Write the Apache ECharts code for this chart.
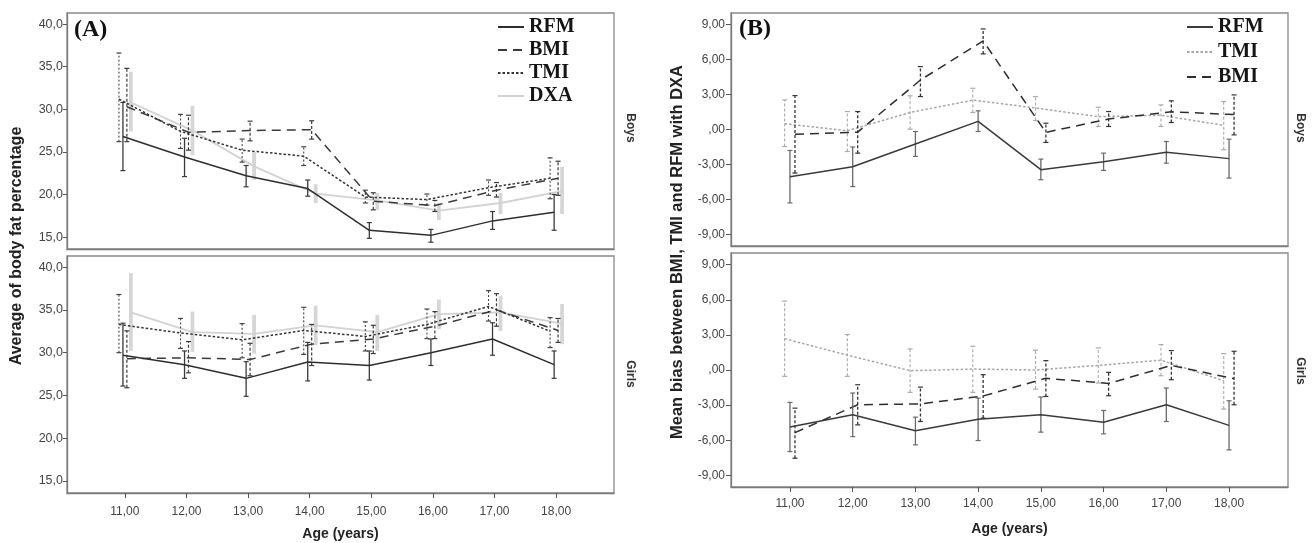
<!DOCTYPE html>
<html>
<head>
<meta charset="utf-8">
<script src="https://cdn.jsdelivr.net/npm/echarts@6/dist/echarts.min.js"></script>
<style>html,body{margin:0;padding:0;background:#fff}#c{width:1314px;height:543px}</style>
</head>
<body>
<div id="c"></div>
<script>
// ---------- DATA ----------
const ages = [11, 12, 13, 14, 15, 16, 17, 18];
const yTicksA = [15, 20, 25, 30, 35, 40];
const yTicksB = [-9, -6, -3, 0, 3, 6, 9];

// Panel A, Boys (body fat %)
const aBoysRFM   = [26.8, 24.4, 22.2, 20.7, 15.8, 15.2, 16.9, 17.9];
const aBoysRFMLo = [22.8, 22.1, 20.9, 19.8, 14.85, 14.4, 15.9, 15.8];
const aBoysRFMHi = [30.8, 26.6, 23.4, 21.7, 16.7, 15.9, 18.0, 20.0];
const aBoysBMI   = [30.3, 27.3, 27.5, 27.6, 19.2, 18.7, 20.5, 21.9];
const aBoysBMILo = [26.2, 25.2, 26.3, 26.5, 18.2, 18.0, 19.7, 19.9];
const aBoysBMIHi = [34.8, 29.3, 28.6, 28.65, 20.2, 19.3, 21.4, 23.9];
const aBoysTMI   = [31.2, 27.4, 25.2, 24.5, 19.7, 19.4, 20.8, 21.9];
const aBoysTMILo = [26.2, 25.4, 23.8, 23.4, 19.0, 18.75, 19.9, 19.5];
const aBoysTMIHi = [36.6, 29.4, 26.5, 25.6, 20.5, 20.05, 21.7, 24.3];
const aBoysDXA   = [30.8, 27.5, 23.3, 20.1, 19.3, 18.1, 19.0, 20.4];
const aBoysDXALo = [27.4, 24.6, 21.7, 19.0, 18.2, 17.0, 17.7, 17.7];
const aBoysDXAHi = [34.4, 30.4, 25.0, 21.2, 20.2, 19.0, 20.2, 23.25];

// Panel A, Girls
const aGirlsRFM   = [29.7, 28.6, 27.0, 28.9, 28.5, 30.0, 31.6, 28.6];
const aGirlsRFMLo = [26.1, 27.0, 24.9, 26.7, 26.8, 28.5, 29.7, 27.0];
const aGirlsRFMHi = [33.45, 30.2, 28.95, 31.2, 30.2, 31.6, 33.5, 30.2];
const aGirlsBMI   = [29.3, 29.4, 29.2, 31.0, 31.6, 33.1, 35.0, 32.6];
const aGirlsBMILo = [25.9, 27.65, 27.3, 28.5, 29.9, 31.65, 33.1, 31.2];
const aGirlsBMIHi = [32.55, 31.3, 31.1, 33.3, 33.2, 34.8, 36.9, 34.0];
const aGirlsTMI   = [33.3, 32.3, 31.5, 32.6, 31.9, 33.3, 35.4, 32.5];
const aGirlsTMILo = [30.0, 30.5, 29.4, 29.8, 30.2, 31.65, 33.7, 30.6];
const aGirlsTMIHi = [36.8, 34.0, 33.4, 35.3, 33.6, 35.1, 37.25, 34.1];
const aGirlsDXA   = [34.7, 32.4, 32.2, 33.2, 32.4, 34.5, 34.7, 33.4];
const aGirlsDXALo = [30.2, 30.1, 29.9, 30.9, 30.2, 32.75, 32.55, 31.0];
const aGirlsDXAHi = [39.3, 34.8, 34.4, 35.5, 34.4, 36.2, 36.6, 35.7];

// Panel B, Boys (mean bias vs DXA)
const bBoysRFM   = [-4.05, -3.2, -1.24, 0.7, -3.45, -2.77, -1.96, -2.5];
const bBoysRFMLo = [-6.3, -4.9, -2.31, -0.17, -4.31, -3.51, -2.89, -4.17];
const bBoysRFMHi = [-1.8, -1.5, -0.17, 1.6, -2.54, -2.03, -1.03, -0.83];
const bBoysTMI   = [0.5, -0.1, 1.46, 2.52, 1.85, 1.1, 1.22, 0.36];
const bBoysTMILo = [-1.46, -1.89, 0.03, 1.46, 0.77, 0.26, 0.26, -1.74];
const bBoysTMIHi = [2.54, 1.54, 2.89, 3.54, 2.83, 1.91, 2.11, 2.4];
const bBoysBMI   = [-0.4, -0.23, 4.25, 7.6, -0.25, 0.9, 1.52, 1.28];
const bBoysBMILo = [-3.74, -2.03, 2.83, 6.49, -1.11, 0.26, 0.6, -0.46];
const bBoysBMIHi = [2.91, 1.54, 5.4, 8.63, 0.54, 1.54, 2.46, 2.97];

// Panel B, Girls
const bGirlsRFM   = [-4.87, -3.83, -5.2, -4.2, -3.82, -4.46, -2.97, -4.73];
const bGirlsRFMLo = [-6.97, -5.69, -6.4, -6.03, -5.31, -5.46, -4.4, -6.83];
const bGirlsRFMHi = [-2.77, -1.97, -4.03, -2.4, -2.31, -3.46, -1.54, -2.63];
const bGirlsTMI   = [2.67, 1.27, -0.06, 0.08, 0.0, 0.39, 0.84, -0.92];
const bGirlsTMILo = [-0.54, -0.54, -1.91, -1.91, -1.63, -1.11, -0.49, -3.34];
const bGirlsTMIHi = [5.89, 3.03, 1.8, 2.03, 1.69, 1.89, 2.17, 1.4];
const bGirlsBMI   = [-5.35, -2.97, -2.9, -2.22, -0.71, -1.15, 0.39, -0.75];
const bGirlsBMILo = [-7.54, -4.69, -4.4, -4.11, -2.26, -2.2, -0.83, -2.97];
const bGirlsBMIHi = [-3.26, -1.26, -1.46, -0.4, 0.8, -0.2, 1.66, 1.6];

// ---------- STYLES ----------
const DARK = '#2e2e2e';
const SANS = 'Liberation Sans, Arial, sans-serif';
const SERIF = 'Liberation Serif, Times New Roman, serif';

const sty = {
  A_RFM: { line: { color: DARK, width: 1.5, type: 'solid' }, err: { stroke: '#3a3a3a', lineWidth: 1.3 }, cap: 2.5, off: -0.032, z: 5 },
  A_BMI: { line: { color: '#3a3a3a', width: 1.5, type: [9, 6] }, err: { stroke: '#3a3a3a', lineWidth: 1.2, lineDash: [3, 2] }, cap: 2.5, off: 0.032, z: 4 },
  A_TMI: { line: { color: '#333', width: 1.5, type: [2.5, 2] }, err: { stroke: '#444', lineWidth: 1.1, lineDash: [2, 2] }, cap: 2.5, off: -0.097, z: 4 },
  A_DXA: { line: { color: '#d2d2d2', width: 1.8, type: 'solid' }, err: { stroke: '#d6d6d6', lineWidth: 3.8 }, cap: 0, off: 0.097, z: 2 },
  B_RFM: { line: { color: '#3a3a3a', width: 1.5, type: 'solid' }, err: { stroke: '#6a6a6a', lineWidth: 1.3 }, cap: 2.5, off: 0, z: 5 },
  B_TMI: { line: { color: '#a6a6a6', width: 1.5, type: [2.5, 2] }, err: { stroke: '#aaa', lineWidth: 1.1, lineDash: [3, 2] }, cap: 2.5, off: -0.085, z: 3 },
  B_BMI: { line: { color: '#2e2e2e', width: 1.5, type: [9, 6] }, err: { stroke: '#333', lineWidth: 1.3, lineDash: [3, 2] }, cap: 2.5, off: 0.08, z: 4 }
};

const X_MIN = 10.06, X_MAX = 18.94;
const grids = [
  { left: 67, width: 547, top: 13, height: 236 },   // A boys
  { left: 67, width: 547, top: 256, height: 237 },  // A girls
  { left: 731, width: 557, top: 13, height: 233 },  // B boys
  { left: 731, width: 557, top: 253, height: 234 }  // B girls
];

function fmtA(v) { return v.toFixed(1).replace('.', ','); }
function fmtB(v) { return v === 0 ? ',00' : v.toFixed(2).replace('.', ','); }
function fmtX(v) { return v.toFixed(2).replace('.', ','); }

const xAxes = grids.map((g, i) => {
  const bottom = (i === 1 || i === 3);
  return {
    type: 'value', gridIndex: i, min: X_MIN, max: X_MAX,
    axisLine: { show: true, onZero: false, lineStyle: { color: '#7a7a7a', width: 1.3 } },
    axisTick: { show: bottom, customValues: ages, length: 5, lineStyle: { color: '#555' } },
    axisLabel: { show: bottom, customValues: ages, formatter: fmtX, margin: i === 1 ? 13 : 11, color: '#444', fontFamily: SANS, fontSize: 12 },
    splitLine: { show: false },
    name: bottom ? 'Age (years)' : '', nameLocation: 'middle', nameGap: i === 1 ? 34 : 35,
    nameTextStyle: { fontFamily: SANS, fontWeight: 'bold', fontSize: 14, color: '#222' }
  };
});
const yAxes = grids.map((g, i) => {
  const isA = i < 2;
  const ticks = isA ? yTicksA : yTicksB;
  return {
    type: 'value', gridIndex: i,
    min: isA ? 13.6 : -10, max: isA ? 41.3 : 10,
    axisLine: { show: true, onZero: false, lineStyle: { color: '#7a7a7a', width: 1.3 } },
    axisTick: { show: true, customValues: ticks, length: isA ? 4 : 5, lineStyle: { color: '#555' } },
    axisLabel: { customValues: ticks, formatter: isA ? fmtA : fmtB, margin: isA ? 4 : 6, color: '#444', fontFamily: SANS, fontSize: isA ? 12.5 : 12 },
    splitLine: { show: false }
  };
});

const series = [];
function errRender(s) {
  return function (params, api) {
    const x = api.value(0), lo = api.value(1), hi = api.value(2);
    const p1 = api.coord([x, lo]), p2 = api.coord([x, hi]);
    const style = Object.assign({ fill: null }, s.err);
    const ch = [{ type: 'line', shape: { x1: p1[0], y1: p1[1], x2: p2[0], y2: p2[1] }, style: style }];
    if (s.cap > 0) {
      const cs = { stroke: s.err.stroke, lineWidth: 1.2 };
      ch.push({ type: 'line', shape: { x1: p1[0] - s.cap, y1: p1[1], x2: p1[0] + s.cap, y2: p1[1] }, style: cs });
      ch.push({ type: 'line', shape: { x1: p2[0] - s.cap, y1: p2[1], x2: p2[0] + s.cap, y2: p2[1] }, style: cs });
    }
    return { type: 'group', children: ch };
  };
}
function add(gi, name, key, mean, lo, hi) {
  const s = sty[key];
  series.push({
    type: 'line', name: name, xAxisIndex: gi, yAxisIndex: gi,
    data: ages.map((a, i) => [a + s.off, mean[i]]),
    symbol: 'none', lineStyle: s.line, itemStyle: { color: s.line.color }, z: s.z, animation: false, silent: true
  });
  series.push({
    type: 'custom', name: name + '-err', xAxisIndex: gi, yAxisIndex: gi,
    data: ages.map((a, i) => [a + s.off, lo[i], hi[i]]),
    renderItem: errRender(s), z: s.z, animation: false, silent: true
  });
}

// order: DXA first (behind)
add(0, 'DXA', 'A_DXA', aBoysDXA, aBoysDXALo, aBoysDXAHi);
add(0, 'RFM', 'A_RFM', aBoysRFM, aBoysRFMLo, aBoysRFMHi);
add(0, 'BMI', 'A_BMI', aBoysBMI, aBoysBMILo, aBoysBMIHi);
add(0, 'TMI', 'A_TMI', aBoysTMI, aBoysTMILo, aBoysTMIHi);
add(1, 'DXA', 'A_DXA', aGirlsDXA, aGirlsDXALo, aGirlsDXAHi);
add(1, 'RFM', 'A_RFM', aGirlsRFM, aGirlsRFMLo, aGirlsRFMHi);
add(1, 'BMI', 'A_BMI', aGirlsBMI, aGirlsBMILo, aGirlsBMIHi);
add(1, 'TMI', 'A_TMI', aGirlsTMI, aGirlsTMILo, aGirlsTMIHi);
add(2, 'RFM (B)', 'B_RFM', bBoysRFM, bBoysRFMLo, bBoysRFMHi);
add(2, 'TMI (B)', 'B_TMI', bBoysTMI, bBoysTMILo, bBoysTMIHi);
add(2, 'BMI (B)', 'B_BMI', bBoysBMI, bBoysBMILo, bBoysBMIHi);
add(3, 'RFM (B)', 'B_RFM', bGirlsRFM, bGirlsRFMLo, bGirlsRFMHi);
add(3, 'TMI (B)', 'B_TMI', bGirlsTMI, bGirlsTMILo, bGirlsTMIHi);
add(3, 'BMI (B)', 'B_BMI', bGirlsBMI, bGirlsBMILo, bGirlsBMIHi);

const legendText = { fontFamily: SERIF, fontWeight: 'bold', fontSize: 20, color: '#151515', lineHeight: 20 };
const legendCommon = {
  orient: 'vertical', itemWidth: 26, itemHeight: 14, selectedMode: false, textStyle: legendText, padding: 0,
  itemStyle: { opacity: 0, borderWidth: 0 }
};
const option = {
  animation: false,
  backgroundColor: '#fff',
  grid: grids.map(g => Object.assign({ show: true, borderColor: '#8a8a8a', borderWidth: 1.3, containLabel: false }, g)),
  xAxis: xAxes,
  yAxis: yAxes,
  legend: [
    Object.assign({ data: ['RFM', 'BMI', 'TMI', 'DXA'], left: 497, top: 17, itemGap: 3 }, legendCommon),
    Object.assign({ data: ['RFM (B)', 'TMI (B)', 'BMI (B)'], left: 1186, top: 17, itemGap: 5,
      formatter: n => n.replace(' (B)', '') }, legendCommon)
  ],
  graphic: [
    { type: 'text', left: 74, top: 18, style: { text: '(A)', font: 'bold 24px ' + SERIF, fill: '#111' } },
    { type: 'text', left: 739, top: 17, style: { text: '(B)', font: 'bold 24px ' + SERIF, fill: '#111' } },
    { type: 'text', x: 17, y: 246, rotation: Math.PI / 2, style: { text: 'Average of body fat percentage', font: 'bold 16px ' + SANS, fill: '#222', textAlign: 'center', textVerticalAlign: 'middle' } },
    { type: 'text', x: 677, y: 252, rotation: Math.PI / 2, style: { text: 'Mean bias between BMI, TMI and RFM with DXA', font: 'bold 16.5px ' + SANS, fill: '#222', textAlign: 'center', textVerticalAlign: 'middle' } },
    { type: 'text', x: 630, y: 128, rotation: -Math.PI / 2, style: { text: 'Boys', font: 'bold 12px ' + SANS, fill: '#333', textAlign: 'center', textVerticalAlign: 'middle' } },
    { type: 'text', x: 630, y: 374, rotation: -Math.PI / 2, style: { text: 'Girls', font: 'bold 12px ' + SANS, fill: '#333', textAlign: 'center', textVerticalAlign: 'middle' } },
    { type: 'text', x: 1300, y: 128, rotation: -Math.PI / 2, style: { text: 'Boys', font: 'bold 12px ' + SANS, fill: '#333', textAlign: 'center', textVerticalAlign: 'middle' } },
    { type: 'text', x: 1300, y: 371, rotation: -Math.PI / 2, style: { text: 'Girls', font: 'bold 12px ' + SANS, fill: '#333', textAlign: 'center', textVerticalAlign: 'middle' } }
  ],
  series: series
};
const chart = echarts.init(document.getElementById('c'), null, { renderer: 'canvas' });
chart.setOption(option);
</script>
</body>
</html>
